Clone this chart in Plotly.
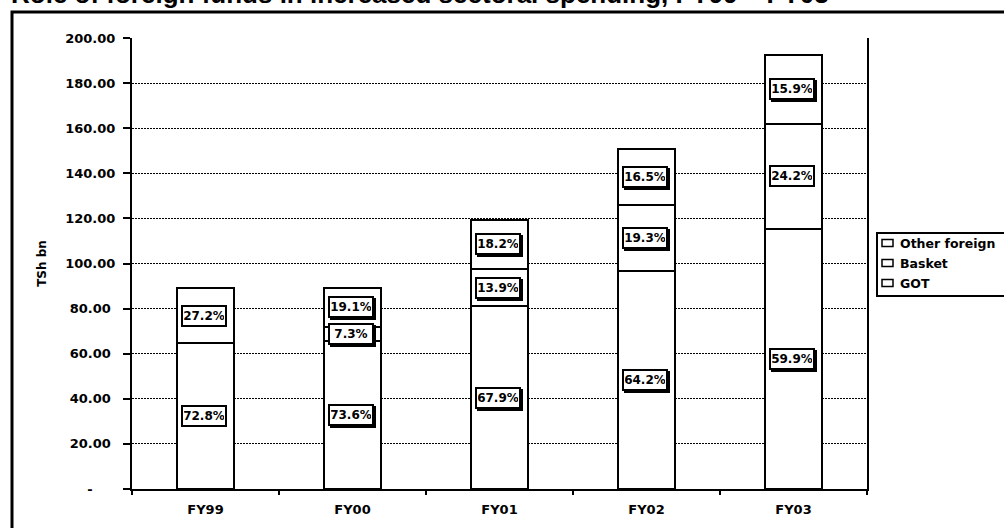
import plotly.graph_objects as go

# ---- data ----
categories = ["FY99", "FY00", "FY01", "FY02", "FY03"]
series_names = ["GOT", "Basket", "Other foreign"]
got_values = [64.8, 65.5, 81.0, 96.8, 115.3]
basket_values = [0.0, 6.5, 16.6, 29.1, 46.6]
other_values = [24.2, 17.0, 21.7, 24.9, 30.6]
got_labels = ["72.8%", "73.6%", "67.9%", "64.2%", "59.9%"]
basket_labels = [None, "7.3%", "13.9%", "19.3%", "24.2%"]
other_labels = ["27.2%", "19.1%", "18.2%", "16.5%", "15.9%"]
y_tick_values = [0, 20, 40, 60, 80, 100, 120, 140, 160, 180, 200]
y_tick_labels = ["-", "20.00", "40.00", "60.00", "80.00", "100.00", "120.00",
                 "140.00", "160.00", "180.00", "200.00"]
title_text = "Role of foreign funds in increased sectoral spending, FY99 \u2013 FY03"
y_title = "TSh bn"

# ---- layout geometry (pixels) ----
W, H = 1004, 528
L, R, T, B = 132, 867, 38, 489
FONT = "DejaVu Sans"
NBSP = "\u00a0"


def px_x(p):
    return (p - L) / (R - L)


def px_y(p):
    return (B - p) / (B - T)


def pad_tick(label):
    # accounting-style right padding, as in the original spreadsheet chart
    if label == "-":
        return label + NBSP * 5
    if len(label) < 6:
        return label + NBSP
    return label


series_values = [got_values, basket_values, other_values]
series_labels = [got_labels, basket_labels, other_labels]

fig = go.Figure()
for name, vals in zip(series_names, series_values):
    fig.add_trace(go.Bar(
        x=categories, y=vals, name=name,
        marker=dict(color="white", line=dict(color="black", width=2)),
        showlegend=False,
    ))

# ---- percentage labels ----
no_shadow = {(0, "GOT"), (0, "Other foreign"), (4, "Basket")}
annotations = []
shadows = []
for i, cat in enumerate(categories):
    base = 0.0
    for name, vals, labs in zip(series_names, series_values, series_labels):
        v = vals[i]
        lab = labs[i]
        if lab is not None:
            common = dict(x=cat, y=base + v / 2, xref="x", yref="y",
                          showarrow=False, width=40, height=16,
                          borderpad=1, borderwidth=2, bordercolor="black")
            if (i, name) not in no_shadow:
                shadows.append(dict(text=lab, bgcolor="black", xshift=0, yshift=-2,
                                    font=dict(family=FONT, size=12, color="black", weight="bold"),
                                    **common))
            annotations.append(dict(text=lab, bgcolor="white", xshift=-2,
                                    font=dict(family=FONT, size=12, color="black", weight="bold"),
                                    **common))
        base += v

# ---- title (partly cut off at the top, as in the original) ----
annotations.append(dict(text="<b>" + title_text + "</b>", xref="paper", yref="paper",
                        x=px_x(9), y=px_y(12), xanchor="left", yanchor="bottom",
                        yshift=1, showarrow=False,
                        font=dict(family="Liberation Sans", size=26, color="black")))

# ---- legend (drawn manually, to match the original tight layout) ----
legend_rows = list(reversed(series_names))
legend_centers = [243, 263, 283]
shapes = []
for name, cy in zip(legend_rows, legend_centers):
    shapes.append(dict(type="rect", xref="paper", yref="paper",
                       x0=px_x(882), x1=px_x(893), y0=px_y(cy + 3.5), y1=px_y(cy - 3.5),
                       line=dict(color="black", width=1.5), fillcolor="white"))
    annotations.append(dict(text=name, xref="paper", yref="paper",
                            x=px_x(898), y=px_y(cy), xanchor="left", yanchor="middle",
                            showarrow=False,
                            font=dict(family=FONT, size=12.5, color="black", weight="bold")))
shapes.append(dict(type="rect", xref="paper", yref="paper",
                   x0=px_x(877), x1=px_x(1015), y0=px_y(296), y1=px_y(233),
                   line=dict(color="black", width=2), fillcolor="rgba(0,0,0,0)"))
# outer chart frame
shapes.append(dict(type="rect", xref="paper", yref="paper",
                   x0=px_x(12), x1=px_x(1020), y0=px_y(540), y1=px_y(12),
                   line=dict(color="black", width=3), fillcolor="rgba(0,0,0,0)"))

fig.update_layout(
    width=W, height=H, autosize=False,
    margin=dict(l=L, r=W - R, t=T, b=H - B, pad=0),
    paper_bgcolor="white", plot_bgcolor="white",
    barmode="stack", bargap=0.61,
    font=dict(family=FONT, size=13, color="black", weight="bold"),
    showlegend=False,
    annotations=shadows + annotations,
    shapes=shapes,
)
fig.update_xaxes(
    type="category", range=[-0.5, 4.5],
    showline=True, linecolor="black", linewidth=2, mirror=False,
    ticks="outside", ticklen=4, tickwidth=2, tickcolor="black",
    tickson="boundaries", showgrid=False,
    tickfont=dict(family=FONT, size=13, color="black", weight="bold"),
    ticklabelstandoff=7,
)
fig.update_yaxes(
    range=[0, 200], tickvals=y_tick_values,
    ticktext=[pad_tick(t) for t in y_tick_labels],
    showline=True, linecolor="black", linewidth=2, mirror=True,
    ticks="outside", ticklen=7, tickwidth=1.5, tickcolor="black",
    showgrid=True, gridcolor="black", gridwidth=1, griddash="2px,1px",
    zeroline=False,
    tickfont=dict(family=FONT, size=13, color="black", weight="bold"),
    ticklabelstandoff=5,
    title=dict(text=y_title, font=dict(family=FONT, size=12, color="black", weight="bold"),
               standoff=16),
)

fig.write_html("out.html")
